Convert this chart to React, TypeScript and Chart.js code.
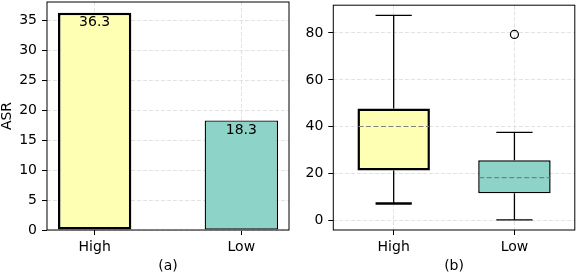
import React, { useEffect, useRef } from "react";
import { Chart, registerables } from "chart.js";

Chart.register(...registerables);

// ---------- data ----------
const categories = ["High", "Low"];
const asrValues = [36.3, 18.3];
const barColors = ["#ffffb3", "#8dd3c7"];
const asrTicks = [0, 5, 10, 15, 20, 25, 30, 35];

const whiskerLow = [7.3, 0.3];
const quartile1 = [21.3, 11.6];
const medians = [40.1, 18.3];
const quartile3 = [47.8, 25.7];
const whiskerHigh = [87.5, 37.6];
const outlierCategory = [1];
const outlierValues = [79.4];
const boxTicks = [0, 20, 40, 60, 80];

// ---------- styles ----------
const FONT = "'DejaVu Sans', sans-serif";
const FONT_SIZE = 14;
const barEdgeWidths = [2.5, 1.3];
const boxEdgeWidths = [2.5, 1.5];
const capHighWidths = [1.3, 1.3];
const capLowWidths = [2.5, 1.3];

Chart.defaults.font.family = FONT;
Chart.defaults.font.size = FONT_SIZE;
Chart.defaults.color = "#000";

const framePlugin = {
  id: "frame",
  afterDraw(chart: any) {
    const { ctx, chartArea: a } = chart;
    ctx.save();
    ctx.strokeStyle = "#000";
    ctx.lineWidth = 1;
    ctx.strokeRect(a.left, a.top, a.right - a.left, a.bottom - a.top);
    ctx.restore();
  },
};

const barLabelPlugin = {
  id: "barLabels",
  afterDatasetsDraw(chart: any) {
    const { ctx } = chart;
    const meta = chart.getDatasetMeta(0);
    ctx.save();
    ctx.font = `${FONT_SIZE}px ${FONT}`;
    ctx.fillStyle = "#000";
    ctx.textAlign = "center";
    ctx.textBaseline = "middle";
    meta.data.forEach((bar: any, i: number) => {
      ctx.fillText(asrValues[i].toFixed(1), bar.x, bar.y + 10);
    });
    ctx.restore();
  },
};

const boxPartsPlugin = {
  id: "boxParts",
  afterDatasetsDraw(chart: any) {
    const { ctx } = chart;
    const xs = chart.scales.x;
    const ys = chart.scales.y;
    const meta = chart.getDatasetMeta(0);
    const line = (x1: number, y1: number, x2: number, y2: number) => {
      ctx.beginPath();
      ctx.moveTo(x1, y1);
      ctx.lineTo(x2, y2);
      ctx.stroke();
    };
    categories.forEach((_, i) => {
      const bar = meta.data[i];
      const w = bar.width;
      const cx = xs.getPixelForValue(i);
      const cap = w / 4;
      const yHi = ys.getPixelForValue(whiskerHigh[i]);
      const yLo = ys.getPixelForValue(whiskerLow[i]);
      const yQ1 = ys.getPixelForValue(quartile1[i]);
      const yQ3 = ys.getPixelForValue(quartile3[i]);
      const yMed = ys.getPixelForValue(medians[i]);
      ctx.save();
      ctx.strokeStyle = "#000";
      ctx.lineWidth = 1.3;
      line(cx, yQ3, cx, yHi);
      line(cx, yQ1, cx, yLo);
      ctx.lineWidth = capHighWidths[i];
      line(cx - cap, yHi, cx + cap, yHi);
      ctx.lineWidth = capLowWidths[i];
      line(cx - cap, yLo, cx + cap, yLo);
      ctx.strokeStyle = "#808080";
      ctx.lineWidth = 1.2;
      ctx.setLineDash([5, 2.5]);
      line(cx - w / 2 + 1, yMed, cx + w / 2 - 1, yMed);
      ctx.restore();
    });
  },
};

const gridOpts = () => ({
  color: "#e2e2e2",
  lineWidth: 1,
  tickColor: "#000",
  tickLength: 5,
  tickWidth: 1,
  tickBorderDash: [],
  drawTicks: true,
  offset: false,
});
const borderOpts = () => ({ display: false, dash: [4, 2] });
const titleFont = { size: FONT_SIZE, lineHeight: 1 };

function leftConfig(): any {
  const yMax = Math.max(...asrValues) * 1.05;
  const half = 0.25;
  const span = categories.length - 1 + 2 * half;
  const xMin = -half - span * 0.05;
  const xMax = categories.length - 1 + half + span * 0.05;
  return {
    type: "bar",
    data: {
      datasets: [
        {
          data: categories.map((_, i) => ({ x: i, y: asrValues[i] })),
          backgroundColor: barColors,
          borderColor: "#000",
          borderWidth: barEdgeWidths,
          borderSkipped: false,
          barPercentage: 0.5,
          categoryPercentage: 1,
        },
      ],
    },
    options: {
      animation: false,
      responsive: false,
      events: [],
      layout: { padding: { left: 0, top: 2, right: 1, bottom: 0 } },
      plugins: { legend: { display: false }, tooltip: { enabled: false } },
      scales: {
        x: {
          type: "linear",
          offset: false,
          min: xMin,
          max: xMax,
          afterBuildTicks: (s: any) => {
            s.ticks = categories.map((_, i) => ({ value: i }));
          },
          ticks: {
            callback: (_v: any, i: number) => categories[i],
            maxRotation: 0,
            padding: 4,
            color: "#000",
          },
          grid: gridOpts(),
          border: borderOpts(),
          title: { display: true, text: "(a)", padding: { top: 0, bottom: -1 }, font: titleFont, color: "#000" },
          afterFit: (s: any) => {
            s.height = 42;
            s.paddingLeft = 0;
            s.paddingRight = 0;
          },
        },
        y: {
          type: "linear",
          min: 0,
          max: yMax,
          afterBuildTicks: (s: any) => {
            s.ticks = asrTicks.map((v) => ({ value: v }));
          },
          ticks: { padding: 5, color: "#000" },
          grid: gridOpts(),
          border: borderOpts(),
          title: { display: true, text: "ASR", padding: 0, font: titleFont, color: "#000" },
          afterFit: (s: any) => {
            s.width = 47;
            s.paddingTop = 0;
            s.paddingBottom = 0;
          },
        },
      },
    },
    plugins: [barLabelPlugin, framePlugin],
  };
}

function rightConfig(): any {
  const lo = Math.min(...whiskerLow, ...outlierValues);
  const hi = Math.max(...whiskerHigh, ...outlierValues);
  const pad = (hi - lo) * 0.05;
  return {
    type: "bar",
    data: {
      datasets: [
        {
          type: "bar",
          data: categories.map((_, i) => ({ x: i, y: [quartile1[i], quartile3[i]] })),
          backgroundColor: barColors,
          borderColor: "#000",
          borderWidth: boxEdgeWidths,
          borderSkipped: false,
          barPercentage: 0.6,
          categoryPercentage: 1,
        },
        {
          type: "scatter",
          data: outlierCategory.map((c, k) => ({ x: c, y: outlierValues[k] })),
          pointRadius: 4,
          pointBackgroundColor: "rgba(255,255,255,0)",
          pointBorderColor: "#000",
          pointBorderWidth: 1.2,
        },
      ],
    },
    options: {
      animation: false,
      responsive: false,
      events: [],
      layout: { padding: { left: 0, top: 2, right: 3.3, bottom: 0 } },
      plugins: { legend: { display: false }, tooltip: { enabled: false } },
      scales: {
        x: {
          type: "linear",
          offset: false,
          min: -0.5,
          max: categories.length - 0.5,
          afterBuildTicks: (s: any) => {
            s.ticks = categories.map((_, i) => ({ value: i }));
          },
          ticks: {
            callback: (_v: any, i: number) => categories[i],
            maxRotation: 0,
            padding: 4,
            color: "#000",
          },
          grid: gridOpts(),
          border: borderOpts(),
          title: { display: true, text: "(b)", padding: { top: 0, bottom: -1 }, font: titleFont, color: "#000" },
          afterFit: (s: any) => {
            s.height = 42;
            s.paddingLeft = 0;
            s.paddingRight = 0;
          },
        },
        y: {
          type: "linear",
          min: lo - pad,
          max: hi + pad,
          afterBuildTicks: (s: any) => {
            s.ticks = boxTicks.map((v) => ({ value: v }));
          },
          ticks: { padding: 5, color: "#000" },
          grid: gridOpts(),
          border: borderOpts(),
          afterFit: (s: any) => {
            s.width = 43.3;
            s.paddingTop = 0;
            s.paddingBottom = 0;
          },
        },
      },
    },
    plugins: [boxPartsPlugin, framePlugin],
  };
}

export default function App() {
  const leftRef = useRef<HTMLCanvasElement>(null);
  const rightRef = useRef<HTMLCanvasElement>(null);
  useEffect(() => {
    const c1 = new Chart(leftRef.current as HTMLCanvasElement, leftConfig());
    const c2 = new Chart(rightRef.current as HTMLCanvasElement, rightConfig());
    return () => {
      c1.destroy();
      c2.destroy();
    };
  }, []);
  return (
    <div
      style={{
        position: "fixed",
        left: 0,
        top: 0,
        width: 576,
        height: 272,
        overflow: "hidden",
        background: "#fff",
      }}
    >
      <canvas
        ref={leftRef}
        width={290}
        height={272}
        style={{ position: "absolute", left: 0, top: 0, width: 290, height: 272 }}
      />
      <canvas
        ref={rightRef}
        width={290}
        height={272}
        style={{ position: "absolute", left: 290, top: 0, width: 290, height: 272 }}
      />
    </div>
  );
}
